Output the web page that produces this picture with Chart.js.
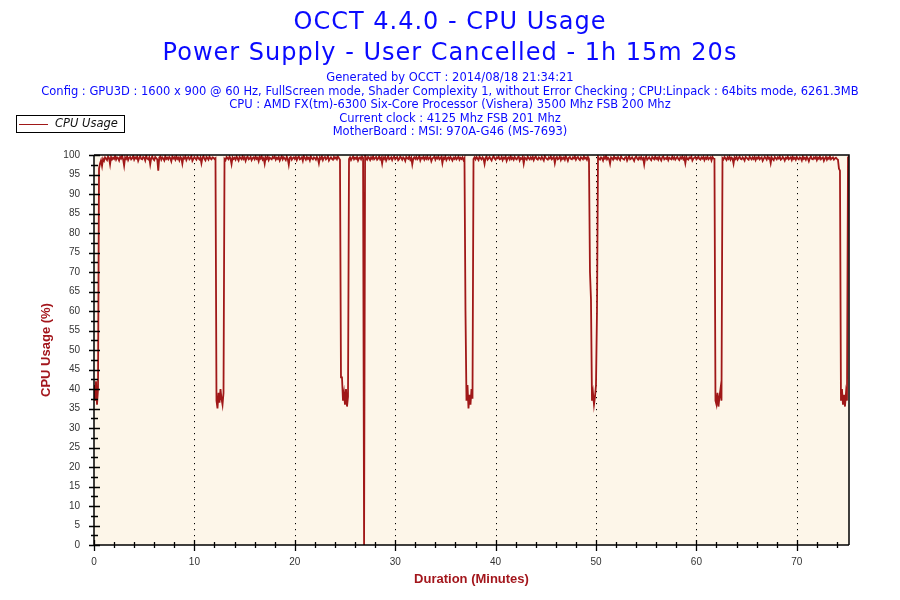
<!DOCTYPE html>
<html>
<head>
<meta charset="utf-8">
<script src="https://cdn.jsdelivr.net/npm/chart.js@4.4.1/dist/chart.umd.min.js"></script>
<style>
  html, body { margin: 0; padding: 0; background: #ffffff; }
  #wrap { position: relative; width: 900px; height: 600px; overflow: hidden; }
  #chart { position: absolute; left: 0; top: 0; }
  .hdr { position: absolute; left: 0; width: 900px; text-align: center; white-space: nowrap;
         font-family: "DejaVu Sans", sans-serif; color: #0a0aff; line-height: 1; }
  .t1 { font-size: 24px; letter-spacing: 1px; }
  .t2 { font-size: 11.5px; }
  #legend { position: absolute; left: 16px; top: 115px; width: 107px; height: 16px;
            border: 1px solid #000; background: #fff; }
  #legend .sw { position: absolute; left: 2px; top: 7.5px; width: 29px; height: 0;
                border-top: 1px solid #a01818; }
  #legend .lt { position: absolute; left: 38px; top: 2px; font-family: "DejaVu Sans", sans-serif;
                font-style: italic; font-size: 11.5px; line-height: 1; color: #111; white-space: nowrap; }
</style>
</head>
<body>
<div id="wrap">
  <canvas id="chart" width="900" height="600"></canvas>
  <div class="hdr t1" style="top:9.4px">OCCT 4.4.0 - CPU Usage</div>
  <div class="hdr t1" style="top:39.7px">Power Supply - User Cancelled - 1h 15m 20s</div>
  <div class="hdr t2" style="top:71.7px">Generated by OCCT : 2014/08/18 21:34:21</div>
  <div class="hdr t2" style="top:85.8px">Config : GPU3D : 1600 x 900 @ 60 Hz, FullScreen mode, Shader Complexity 1, without Error Checking ; CPU:Linpack : 64bits mode, 6261.3MB</div>
  <div class="hdr t2" style="top:99.3px">CPU : AMD FX(tm)-6300 Six-Core Processor (Vishera) 3500 Mhz FSB 200 Mhz</div>
  <div class="hdr t2" style="top:113.2px">Current clock : 4125 Mhz FSB 201 Mhz</div>
  <div class="hdr t2" style="top:126.3px">MotherBoard : MSI: 970A-G46 (MS-7693)</div>
  <div id="legend"><div class="sw"></div><div class="lt">CPU Usage</div></div>
</div>
<script>
// ---- data ----
const SAMPLE_STEP_MIN = 0.1;      // one reading every 0.1 minute
const DURATION_MAX_MIN = 75.2;
const SERIES_NAME = 'CPU Usage';
const cpuUsage = [
  41, 37, 42, 36, 40, 96.5, 97.8, 98.6, 97.2, 99.0, 98.5, 99.4, 99.1, 98.7, 99.6, 99.2, 97.6, 99.5, 98.9, 99.3,
  99.0, 99.7, 98.8, 99.4, 99.2, 98.6, 99.5, 99.1, 99.8, 98.9, 97.3, 99.4, 99.0, 99.6, 98.7, 99.3, 99.5, 98.9, 99.2, 99.7,
  98.8, 99.4, 99.1, 99.6, 98.5, 99.2, 99.7, 99.0, 98.9, 99.5, 99.3, 98.6, 99.8, 99.1, 98.9, 99.4, 97.6, 99.2, 99.6, 99.0,
  98.7, 99.5, 99.2, 98.9, 96.0, 99.3, 99.6, 98.8, 99.4, 99.1, 98.6, 99.7, 99.0, 99.3, 98.9, 99.5, 99.2, 98.4, 99.6, 99.1,
  99.4, 98.8, 99.7, 99.0, 99.3, 98.6, 99.5, 99.2, 97.8, 99.4, 99.1, 99.6, 98.7, 99.3, 99.5, 98.9, 99.2, 99.7, 98.5, 99.0,
  99.5, 99.1, 98.8, 99.6, 99.2, 98.9, 99.4, 97.9, 99.3, 99.7, 99.0, 98.6, 99.5, 99.2, 98.8, 99.6, 99.1, 98.9, 99.4, 99.3,
  99.0, 99.2, 37, 35, 39, 36.5, 40, 37.5, 36, 39, 99.0, 98.7, 99.5, 99.2, 98.9, 99.6, 99.1, 97.7, 99.4, 99.0,
  99.3, 98.8, 99.6, 99.1, 98.6, 99.5, 99.2, 98.9, 99.7, 99.0, 99.4, 98.5, 99.3, 99.6, 98.9, 99.1, 99.5, 98.7, 99.2, 99.4,
  98.9, 99.6, 99.0, 99.3, 98.4, 99.5, 99.1, 99.7, 98.8, 99.2, 97.8, 99.4, 99.0, 99.6, 98.7, 99.3, 99.1, 98.9, 99.5, 99.2,
  99.6, 98.8, 99.3, 99.0, 99.5, 98.6, 99.2, 99.7, 98.9, 99.4, 99.1, 98.7, 99.6, 99.0, 97.5, 99.3, 99.5, 98.8, 99.2, 99.4,
  99.0, 99.5, 98.7, 99.3, 99.6, 98.9, 99.1, 99.4, 98.5, 99.7, 99.2, 98.8, 99.5, 99.0, 99.3, 98.6, 99.6, 99.1, 98.9, 99.4,
  99.2, 98.8, 99.5, 99.1, 97.9, 99.4, 99.0, 99.6, 98.7, 99.3, 99.5, 98.9, 99.2, 99.7, 98.6, 99.1, 99.4, 99.0, 98.8, 99.5,
  99.1, 99.4, 98.9, 99.6, 99.2, 98.8, 43, 43, 37, 39, 36, 40, 35.5, 38, 99.0, 99.4, 98.7, 99.2, 99.6, 98.9,
  99.3, 99.0, 99.5, 98.6, 99.2, 99.4, 98.9, 99.6, 99.3, 0, 100, 99.1, 98.8, 99.5, 99.2, 98.7, 99.4, 99.0, 99.6, 98.9,
  99.2, 99.5, 98.8, 99.1, 99.6, 98.9, 99.3, 97.8, 99.4, 99.0, 99.5, 98.6, 99.2, 99.7, 98.9, 99.1, 99.4, 98.7, 99.3, 99.6,
  98.9, 99.2, 99.5, 98.7, 99.0, 99.6, 99.3, 98.8, 99.4, 99.1, 98.5, 99.5, 99.2, 99.0, 99.6, 98.8, 99.3, 97.6, 99.1, 99.4,
  99.0, 99.5, 98.9, 99.2, 99.7, 98.6, 99.3, 99.1, 99.5, 98.8, 99.4, 99.0, 99.6, 98.9, 99.2, 99.5, 98.4, 99.1, 99.3, 99.6,
  98.8, 99.4, 99.1, 99.6, 98.9, 99.2, 99.5, 97.9, 99.3, 99.0, 99.6, 98.7, 99.2, 99.4, 98.9, 99.5, 99.1, 98.6, 99.3, 99.0,
  99.5, 98.9, 99.2, 99.6, 98.8, 99.3, 99.0, 99.4, 98.7, 99.2, 60, 37, 41, 35, 38.5, 36, 40, 37.5, 99.0, 99.4,
  98.9, 99.5, 99.1, 98.7, 99.6, 99.2, 98.9, 99.4, 99.0, 97.7, 99.3, 99.6, 98.8, 99.1, 99.5, 99.0, 98.6, 99.3, 99.7, 99.1,
  98.8, 99.4, 99.2, 99.6, 98.9, 99.0, 99.5, 98.7, 99.3, 99.1, 99.6, 98.5, 99.2, 99.4, 98.9, 99.7, 99.0, 99.3, 98.8, 99.5,
  99.1, 98.9, 99.4, 99.6, 98.6, 99.2, 99.0, 99.5, 97.8, 99.3, 99.1, 98.8, 99.6, 99.2, 98.9, 99.4, 99.0, 99.5, 98.7, 99.3,
  99.6, 99.0, 98.8, 99.4, 99.2, 98.9, 99.5, 99.1, 98.6, 99.7, 99.3, 99.0, 98.8, 99.4, 99.1, 99.6, 98.9, 99.2, 99.5, 97.9,
  99.2, 99.5, 98.9, 99.1, 99.6, 98.7, 99.3, 99.0, 99.4, 98.8, 99.6, 99.2, 98.5, 99.3, 99.5, 99.0, 98.9, 99.4, 99.1, 99.6,
  98.8, 99.3, 99.5, 99.0, 98.7, 99.4, 99.2, 98.9, 99.6, 99.1, 99.3, 98.8, 99.5, 99.0, 70, 63, 37, 39, 36, 38,
  41, 60, 99.6, 99.0, 98.8, 99.4, 99.2, 98.6, 99.5, 99.1, 99.7, 98.9, 99.3, 99.0, 97.8, 99.4, 99.2, 98.8, 99.6, 99.1,
  99.3, 98.9, 99.5, 99.1, 98.7, 99.6, 99.2, 99.0, 98.8, 99.4, 99.5, 98.6, 99.2, 99.7, 98.9, 99.1, 99.4, 99.0, 98.5, 99.3,
  99.6, 99.1, 98.8, 99.4, 99.0, 99.5, 98.9, 99.2, 97.6, 99.3, 99.6, 98.8, 99.1, 99.4, 99.0, 98.7, 99.5, 99.2, 98.9, 99.6,
  99.0, 99.3, 98.8, 99.5, 99.1, 98.6, 99.4, 99.6, 98.9, 99.2, 99.0, 99.5, 98.7, 99.3, 99.1, 98.9, 99.6, 99.0, 99.4, 98.8,
  99.2, 99.5, 99.0, 98.7, 99.4, 99.1, 99.6, 98.9, 99.3, 97.9, 99.5, 99.0, 98.8, 99.4, 99.2, 99.6, 98.6, 99.1, 99.3, 99.5,
  98.9, 99.2, 99.6, 99.0, 98.8, 99.4, 99.1, 99.5, 98.7, 99.3, 99.0, 99.6, 98.9, 99.2, 99.4, 98.6, 99.5, 99.1, 99.0, 37,
  36, 39, 35.5, 38, 40, 37, 99.2, 98.9, 99.5, 99.1, 98.7, 99.4, 99.0, 99.6, 98.8, 99.3, 99.1, 97.8, 99.4, 99.0,
  99.5, 98.8, 99.2, 99.6, 99.0, 98.9, 99.4, 99.1, 98.6, 99.5, 99.3, 99.0, 98.8, 99.6, 99.2, 98.9, 99.4, 99.0, 99.5, 98.7,
  99.3, 99.1, 99.6, 98.9, 99.2, 99.4, 98.5, 99.0, 99.5, 99.2, 98.8, 99.6, 99.1, 99.3, 97.9, 99.4, 99.0, 98.7, 99.5, 99.2,
  98.9, 99.4, 99.1, 99.6, 98.8, 99.0, 99.5, 99.2, 98.6, 99.3, 99.1, 99.6, 98.9, 99.2, 99.4, 98.7, 99.5, 99.0, 99.3, 98.8,
  99.5, 99.1, 98.9, 99.4, 99.2, 98.6, 99.6, 99.0, 99.3, 98.8, 99.5, 99.1, 98.4, 99.2, 99.6, 99.0, 98.9, 99.4, 99.1, 99.5,
  98.7, 99.3, 99.0, 99.6, 98.9, 99.2, 99.4, 98.5, 99.1, 99.5, 98.8, 99.3, 99.0, 99.6, 98.9, 99.2, 99.4, 98.8, 99.1, 99.3,
  99.0, 98.8, 96.5, 96, 37, 40, 36, 38.5, 35.5, 39, 37, 99.4, 99.6
];
const xGridValues = [10, 20, 30, 40, 50, 60, 70];
const xMajorStep = 10, xMinorStep = 2;
const yMajorStep = 5, yMinorStep = 2.5;
const Y_MIN = 0, Y_MAX = 100;
const X_TITLE = 'Duration (Minutes)';
const Y_TITLE = 'CPU Usage (%)';

// ---- styles ----
const LINE_COLOR = '#a01818';
const AXIS_TITLE_COLOR = '#a3161c';
const PLOT_BG = '#fdf6e9';

const points = cpuUsage.map((v, i) => ({ x: +(i * SAMPLE_STEP_MIN).toFixed(2), y: v }));

const framePlugin = {
  id: 'frame',
  beforeDatasetsDraw(chart) {
    const { ctx, chartArea: a, scales: { x } } = chart;
    ctx.save();
    ctx.fillStyle = PLOT_BG;
    ctx.fillRect(a.left, a.top, a.right - a.left, a.bottom - a.top);
    ctx.strokeStyle = '#000';
    ctx.lineWidth = 1;
    ctx.setLineDash([1.2, 4.8]);
    ctx.beginPath();
    for (const v of xGridValues) {
      const px = Math.round(x.getPixelForValue(v)) + 0.5;
      ctx.moveTo(px, a.top + 2);
      ctx.lineTo(px, a.bottom);
    }
    ctx.stroke();
    ctx.restore();
  },
  afterDatasetsDraw(chart) {
    const { ctx, chartArea: a, scales: { x, y } } = chart;
    ctx.save();
    ctx.strokeStyle = '#000';
    ctx.lineWidth = 1.5;
    ctx.beginPath();
    ctx.moveTo(a.left, a.top); ctx.lineTo(a.right, a.top); ctx.lineTo(a.right, a.bottom);
    ctx.stroke();
    ctx.beginPath();
    ctx.moveTo(a.left, a.top); ctx.lineTo(a.left, a.bottom); ctx.lineTo(a.right, a.bottom);
    ctx.stroke();
    ctx.lineWidth = 1.3;
    ctx.beginPath();
    for (let v = Y_MIN; v <= Y_MAX + 1e-9; v += yMinorStep) {
      const py = Math.round(y.getPixelForValue(v)) + 0.5;
      const major = Math.abs(v / yMajorStep - Math.round(v / yMajorStep)) < 1e-6;
      ctx.moveTo(a.left - (major ? 5 : 3), py);
      ctx.lineTo(a.left + (major ? 6 : 4), py);
    }
    for (let v = 0; v <= DURATION_MAX_MIN + 1e-9; v += xMinorStep) {
      const px = Math.round(x.getPixelForValue(v)) + 0.5;
      const major = Math.abs(v / xMajorStep - Math.round(v / xMajorStep)) < 1e-6;
      ctx.moveTo(px, a.bottom - (major ? 5 : 3));
      ctx.lineTo(px, a.bottom + (major ? 6 : 3));
    }
    ctx.stroke();
    ctx.restore();
  }
};

const tickFont = { family: 'Liberation Sans', size: 10 };
const axisTitleFont = { family: 'Liberation Sans', size: 13, weight: 'bold' };

new Chart(document.getElementById('chart'), {
  type: 'line',
  data: {
    datasets: [{
      label: SERIES_NAME,
      data: points,
      borderColor: LINE_COLOR,
      borderWidth: 1.8,
      pointRadius: 0,
      tension: 0,
      fill: false
    }]
  },
  options: {
    responsive: false,
    animation: false,
    layout: { padding: { top: 155, right: 51, left: 0, bottom: 0 } },
    plugins: { legend: { display: false }, title: { display: false }, tooltip: { enabled: false } },
    scales: {
      x: {
        type: 'linear', min: 0, max: DURATION_MAX_MIN,
        afterFit(s) { s.height = 55; },
        grid: { display: false, drawTicks: false },
        border: { display: false },
        ticks: { stepSize: xMajorStep, includeBounds: false, padding: 11, font: tickFont, color: '#333',
                 maxRotation: 0, autoSkip: false },
        title: { display: true, text: X_TITLE, color: AXIS_TITLE_COLOR, font: axisTitleFont,
                 padding: { top: 0, bottom: 13 } }
      },
      y: {
        min: Y_MIN, max: Y_MAX,
        afterFit(s) { s.width = 94; },
        grid: { display: false, drawTicks: false },
        border: { display: false },
        ticks: { stepSize: yMajorStep, padding: 14, font: tickFont, color: '#333', autoSkip: false },
        title: { display: true, text: Y_TITLE, color: AXIS_TITLE_COLOR, font: axisTitleFont,
                 padding: { top: 39, bottom: 0 } }
      }
    }
  },
  plugins: [framePlugin]
});
</script>
</body>
</html>
